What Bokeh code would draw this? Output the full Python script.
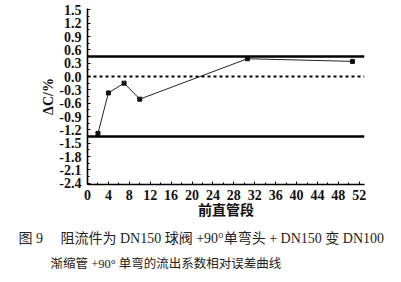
from bokeh.plotting import figure
from bokeh.models import Span, Title, FixedTicker, NumeralTickFormatter, Range1d
from bokeh.embed import file_html
from bokeh.resources import INLINE

# Relative error of the discharge coefficient vs. upstream straight length
straight_len = [2, 4, 7, 10, 30.6, 50.7]
delta_c = [-1.28, -0.37, -0.15, -0.51, 0.40, 0.34]

upper_limit = 0.45
lower_limit = -1.35

x_ticks = list(range(0, 53, 4))
y_ticks = [-2.4, -2.1, -1.8, -1.5, -1.2, -0.9, -0.6, -0.3, 0.0, 0.3, 0.6, 0.9, 1.2, 1.5]

NB = "\u00a0"
caption_1 = "图 9" + NB * 5 + "阻流件为 DN150 球阀 +90°单弯头 + DN150 变 DN100"
caption_2 = "渐缩管 +90° 单弯的流出系数相对误差曲线"

SERIF = "'Liberation Serif', 'Noto Sans CJK SC'"

p = figure(width=401, height=282, output_backend="svg", toolbar_location=None,
           x_range=Range1d(0, 53), y_range=Range1d(-2.43, 1.53),
           min_border_left=87, min_border_right=37, min_border_top=8,
           min_border_bottom=98)
p.outline_line_color = None
p.grid.visible = False
p.background_fill_color = "white"
p.border_fill_color = "white"

for ax in (p.xaxis[0], p.yaxis[0]):
    ax.axis_line_width = 1.6
    ax.axis_line_color = "black"
    ax.major_tick_in = 3
    ax.major_tick_out = 0
    ax.minor_tick_in = 2
    ax.minor_tick_out = 0
    ax.major_tick_line_color = "black"
    ax.minor_tick_line_color = "black"
    ax.major_label_text_font = SERIF
    ax.major_label_text_font_style = "bold"
    ax.major_label_text_font_size = "14px"
    ax.major_label_text_color = "#111111"
    ax.axis_label_text_font = SERIF
    ax.axis_label_text_font_style = "bold"
    ax.axis_label_text_font_size = "14px"
    ax.axis_label_text_color = "#111111"

p.xaxis.ticker = FixedTicker(ticks=x_ticks, minor_ticks=list(range(0, 53, 2)))
p.yaxis.ticker = FixedTicker(ticks=y_ticks,
                             minor_ticks=[round(-2.4 + 0.15 * i, 2) for i in range(27)])
p.yaxis.formatter = NumeralTickFormatter(format="0.0")
p.xaxis.major_label_standoff = 5
p.yaxis.major_label_standoff = 6
p.xaxis.axis_label = "前直管段"
p.xaxis.axis_label_standoff = 0
p.yaxis.axis_label = "ΔC/%"
p.yaxis.axis_label_standoff = 0

# limit lines and zero reference
for loc in (upper_limit, lower_limit):
    p.add_layout(Span(location=loc, dimension="width", line_color="black", line_width=2.5))
p.add_layout(Span(location=0.0, dimension="width", line_color="black",
                  line_width=2, line_dash="3 3"))

p.line(straight_len, delta_c, line_color="#222222", line_width=1)
p.scatter(straight_len, delta_c, marker="square", size=4, color="#111111")

# two-line figure caption under the x axis
p.add_layout(Title(text=caption_1, align="left", offset=-69, standoff=17,
                   text_font=SERIF, text_font_size="14px", text_font_style="normal",
                   text_color="#222222"), "below")
p.add_layout(Title(text=caption_2, align="left", offset=-37, standoff=0,
                   text_font=SERIF, text_font_size="12.5px", text_font_style="normal",
                   text_color="#222222"), "below")

open("out.html", "w").write(file_html(p, INLINE))
